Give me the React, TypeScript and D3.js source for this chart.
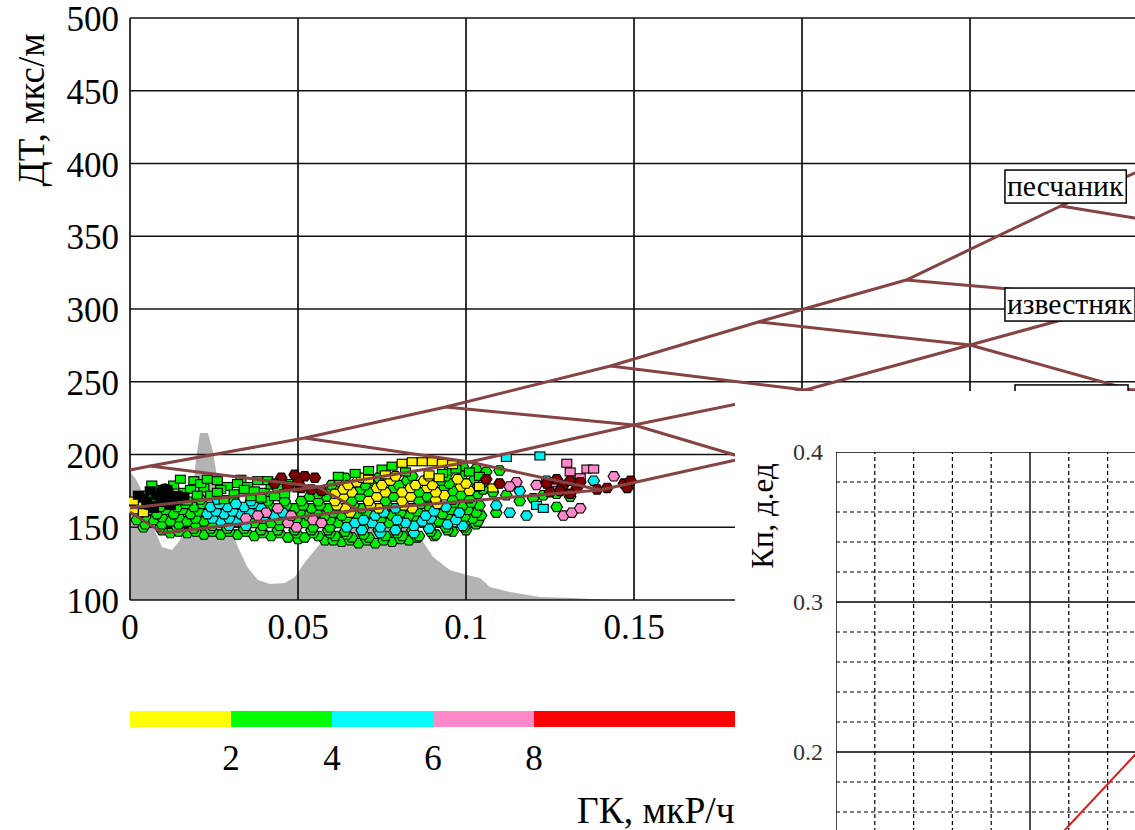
import React, { useEffect, useRef } from "react";
import * as d3 from "d3";

type P = [number, number];

const FONT = "'Liberation Serif','Times New Roman',serif";

// ---------- main chart axes ----------
const xGridValues = [0, 0.05, 0.1, 0.15, 0.2, 0.25, 0.3];
const xLabelValues = [0, 0.05, 0.1, 0.15];
const yGridValues = [100, 150, 200, 250, 300, 350, 400, 450, 500];

// ---------- gray distribution profile (GK, DT) ----------
const grayProfile: P[] = [
  [0, 188], [0.0015, 183.8], [0.003, 177.7], [0.0045, 168.7], [0.006, 156.4], [0.0077, 146],
  [0.0095, 136.4], [0.0125, 134.4], [0.0149, 141.2], [0.017, 155], [0.0185, 168.7], [0.0196, 196.2],
  [0.0208, 214.8], [0.0232, 214.8], [0.0247, 201.7], [0.0259, 184.5], [0.0274, 168.7], [0.0292, 155],
  [0.0321, 136.4], [0.0351, 122], [0.0381, 113.7], [0.0417, 111], [0.0461, 111.7], [0.0491, 115.8],
  [0.0521, 126.1], [0.056, 137.1], [0.0595, 144.7], [0.064, 150.2], [0.0685, 153.6], [0.0744, 155],
  [0.0804, 151.5], [0.0863, 143.3], [0.0902, 129.6], [0.0952, 120.6], [0.1003, 117.2], [0.1042, 115.1],
  [0.1071, 108.9], [0.1131, 105.5], [0.122, 102.1], [0.1318, 101.4], [0.14, 100.3], [0.1414, 100],
];

// ---------- lithology template lines ----------
const sandstoneCurve: P[] = [
  [0, 189.3], [0.006, 192.1], [0.052, 211.3], [0.094, 232.6], [0.143, 260.8],
  [0.187, 291.1], [0.231, 319.9], [0.277, 370.8], [0.32, 415],
];
const limestoneCurve: P[] = [
  [0, 163.2], [0.056, 177.7], [0.101, 194.8], [0.15, 220.3], [0.201, 244.3],
  [0.25, 275.3], [0.299, 306.2], [0.32, 319],
];
const dolomiteCurve: P[] = [
  [0, 160.5], [0.0098, 146], [0.068, 161.9], [0.14, 175.6], [0.183, 197.6],
  [0.24, 221], [0.298, 244.3], [0.32, 253],
];
const crossLine0: P[] = [[0.006, 192.1], [0.056, 177.7], [0.068, 161.9]];
const crossLine1: P[] = [[0.052, 211.3], [0.101, 194.8], [0.14, 175.6]];
const crossLine2: P[] = [[0.094, 232.6], [0.15, 220.3], [0.183, 197.6]];
const crossLine3: P[] = [[0.143, 260.8], [0.201, 244.3], [0.24, 221]];
const crossLine4: P[] = [[0.187, 291.1], [0.25, 275.3], [0.298, 244.3]];
const crossLine5: P[] = [[0.231, 319.9], [0.299, 306.2], [0.33, 290]];
const crossLine6: P[] = [[0.277, 370.8], [0.299, 362.5], [0.34, 340]];

const lithLabels = [
  { text: "песчаник", gk: 0.2604, dt: 395.5 },
  { text: "известняк", gk: 0.2604, dt: 314.4 },
  { text: "", gk: 0.2634, dt: 247.8 },
];

// ---------- scatter points (GK, DT) ----------
const greenHex: P[] = [
  [0.058, 141], [0.063, 140], [0.068, 139], [0.073, 139], [0.078, 140], [0.083, 141],
  [0.05, 142], [0.0605, 141], [0.0655, 141], [0.0705, 141], [0.0755, 141], [0.0805, 142], [0.0855, 143], [0.0905, 144],
  [0.012, 146], [0.017, 146], [0.022, 145], [0.027, 145], [0.032, 145], [0.037, 144], [0.042, 144],
  [0.047, 143], [0.052, 143], [0.056, 144], [0.061, 144], [0.066, 143], [0.071, 143], [0.076, 144],
  [0.081, 144], [0.086, 144], [0.091, 145], [0.096, 147], [0.1, 148],
  [0.0095, 148], [0.0145, 147], [0.0195, 147], [0.0245, 147], [0.0295, 147], [0.0345, 147], [0.0395, 146],
  [0.0445, 146], [0.0495, 146], [0.0545, 146], [0.0595, 146], [0.0645, 145], [0.0695, 145], [0.0795, 146],
  [0.0895, 147], [0.0945, 148], [0.0995, 150],
  [0.004, 150], [0.009, 150], [0.014, 150], [0.019, 149], [0.024, 149], [0.029, 149], [0.034, 149],
  [0.039, 148], [0.044, 148], [0.049, 148], [0.054, 148], [0.059, 148], [0.064, 147], [0.074, 148],
  [0.084, 148], [0.094, 150], [0.103, 152],
  [0.0045, 152], [0.0095, 152], [0.0145, 152], [0.0195, 152], [0.0245, 151], [0.0395, 151], [0.0445, 151],
  [0.0545, 150], [0.0595, 150], [0.0695, 150], [0.0795, 151], [0.0895, 151], [0.0995, 153], [0.1035, 154],
  [0.002, 155], [0.007, 155], [0.012, 154], [0.017, 154], [0.022, 154], [0.037, 153], [0.042, 153],
  [0.052, 153], [0.062, 153], [0.077, 153], [0.092, 154], [0.102, 156],
  [0.0045, 157], [0.0095, 157], [0.0145, 157], [0.0195, 156], [0.0445, 155], [0.0495, 155], [0.0595, 155],
  [0.0645, 155], [0.0745, 155], [0.0845, 156], [0.0945, 157], [0.0995, 157], [0.1045, 158],
  [0.003, 160], [0.008, 159], [0.013, 159], [0.018, 159], [0.053, 158], [0.058, 158], [0.063, 158],
  [0.068, 158], [0.078, 158], [0.083, 158], [0.093, 159], [0.103, 160],
  [0.0055, 162], [0.0105, 162], [0.0155, 162], [0.0205, 161], [0.0505, 160], [0.0555, 160], [0.0605, 160],
  [0.0705, 160], [0.0805, 160], [0.0855, 161], [0.0955, 162], [0.1005, 162],
  [0.004, 165], [0.009, 164], [0.014, 164], [0.019, 164], [0.049, 163], [0.054, 163], [0.059, 163],
  [0.069, 163], [0.089, 164], [0.099, 165], [0.104, 165],
  [0.0065, 167], [0.0115, 166], [0.0165, 166], [0.0215, 166], [0.0415, 165], [0.0465, 165], [0.0515, 165],
  [0.0565, 165], [0.0665, 165], [0.0765, 165], [0.0865, 166], [0.0965, 167], [0.1015, 167],
  [0.006, 169], [0.011, 169], [0.016, 169], [0.021, 169], [0.031, 168], [0.041, 168], [0.046, 168],
  [0.051, 168], [0.056, 168], [0.066, 168], [0.076, 168], [0.086, 168], [0.096, 169], [0.101, 170],
  [0.0535, 171], [0.0585, 171], [0.0685, 171], [0.0785, 171], [0.0885, 171], [0.0985, 172], [0.1035, 173],
  [0.056, 173], [0.071, 174], [0.086, 174], [0.096, 175], [0.105, 176],
  [0.0585, 176], [0.0685, 176], [0.0785, 177], [0.0935, 177], [0.1035, 178],
  [0.06, 179], [0.07, 179], [0.08, 179], [0.095, 180], [0.105, 181],
  [0.0625, 181], [0.0725, 182], [0.0825, 182], [0.0925, 182], [0.1025, 183],
  [0.064, 184], [0.074, 184], [0.084, 185], [0.094, 185], [0.099, 186], [0.104, 186],
  [0.099, 192], [0.103, 190], [0.106, 188], [0.11, 189], [0.095, 189],
  [0.127, 164], [0.131, 171], [0.127, 173], [0.12, 170], [0.116, 168], [0.123, 172], [0.112, 172],
  [0.108, 174], [0.109, 160],
];
const cyanHex: P[] = [
  [0.0745, 146], [0.0845, 146],
  [0.069, 148], [0.079, 148], [0.089, 149], [0.099, 151],
  [0.0295, 151], [0.0345, 151], [0.0645, 150], [0.0745, 150], [0.0845, 151], [0.0945, 152],
  [0.027, 154], [0.032, 154], [0.067, 153], [0.072, 153], [0.082, 153], [0.087, 154], [0.097, 155],
  [0.0245, 156], [0.0295, 156], [0.0395, 156], [0.0695, 155], [0.0795, 155], [0.0895, 156],
  [0.023, 159], [0.028, 159], [0.033, 159], [0.043, 158], [0.073, 158], [0.088, 158], [0.098, 160],
  [0.0255, 161], [0.0305, 161], [0.0355, 161], [0.0455, 160], [0.0755, 160], [0.0905, 161],
  [0.024, 164], [0.029, 164], [0.034, 164], [0.039, 163], [0.079, 163], [0.094, 164],
  [0.0265, 166], [0.0315, 166], [0.0365, 166],
  [0.026, 169], [0.036, 168],
  [0.138, 182], [0.124, 182], [0.118, 158], [0.113, 160], [0.109, 165], [0.116, 175],
];
const pinkHex: P[] = [
  [0.0495, 150], [0.0345, 156], [0.0545, 155], [0.0405, 160],
  [0.047, 153], [0.057, 153], [0.038, 158], [0.048, 158], [0.044, 163],
  [0.144, 185], [0.129, 158], [0.1315, 160], [0.134, 163], [0.115, 181], [0.121, 179],
  [0.113, 178], [0.126, 181],
];
const yellowHex: P[] = [
  [0.0655, 160],
  [0.064, 163], [0.074, 163], [0.084, 163],
  [0.0615, 165], [0.0715, 165], [0.0815, 165], [0.0915, 166],
  [0.061, 168], [0.071, 168], [0.081, 168], [0.091, 169],
  [0.0635, 171], [0.0735, 171], [0.0835, 171], [0.0935, 172],
  [0.061, 173], [0.066, 174], [0.076, 174], [0.081, 174], [0.091, 174], [0.101, 175],
  [0.0635, 176], [0.0735, 177], [0.0835, 177], [0.0885, 177], [0.0985, 178],
  [0.065, 179], [0.075, 179], [0.085, 179], [0.09, 179], [0.1, 180],
  [0.0675, 181], [0.0775, 182], [0.0875, 182], [0.0975, 183],
  [0.069, 184], [0.079, 185], [0.089, 185],
];
const darkRedHex: P[] = [
  [0.045, 184], [0.049, 186], [0.052, 185], [0.055, 184], [0.047, 178], [0.051, 177], [0.054, 176],
  [0.057, 175], [0.043, 180], [0.05, 181],
  [0.106, 183], [0.11, 180],
  [0.124, 180], [0.127, 183], [0.129, 179], [0.131, 182], [0.133, 177], [0.128, 175], [0.125, 174],
  [0.134, 181], [0.131, 173],
  [0.139, 176], [0.142, 177], [0.147, 180], [0.149, 182], [0.148, 177],
];
const greenSquares: P[] = [
  [0.005, 172], [0.008, 176], [0.013, 179], [0.016, 174], [0.019, 182], [0.022, 177], [0.024, 172],
  [0.026, 182], [0.029, 178], [0.031, 173], [0.033, 183], [0.035, 178], [0.038, 182], [0.04, 174],
  [0.042, 179], [0.045, 176], [0.048, 180], [0.011, 170], [0.017, 168], [0.028, 169], [0.036, 171],
  [0.003, 167], [0.043, 171], [0.05, 177],
  [0.0065, 179], [0.015, 183], [0.021, 180], [0.027, 176], [0.032, 180], [0.037, 175], [0.041, 182],
  [0.044, 177], [0.018, 176], [0.023, 183], [0.02, 172], [0.026, 174], [0.034, 176], [0.039, 170],
  [0.046, 173],
  [0.062, 185], [0.067, 187], [0.071, 189], [0.075, 190], [0.078, 192], [0.082, 188], [0.097, 190],
  [0.101, 188], [0.104, 185], [0.093, 187],
];
const yellowSquares: P[] = [
  [0.081, 194], [0.084, 195], [0.087, 195], [0.09, 195], [0.093, 194], [0.096, 193],
  [0.001, 162], [0.003, 166], [0.001, 168], [0.004, 160],
  [0.089, 186], [0.092, 184], [0.104, 178], [0.108, 177], [0.071, 183], [0.076, 186],
];
const blackSquares: P[] = [
  [0.004, 170], [0.006, 175], [0.009, 167], [0.014, 172], [0.012, 165], [0.007, 163],
  [0.0025, 172], [0.005, 168], [0.008, 172], [0.011, 176], [0.013, 168], [0.016, 171], [0.006, 165],
];
const cyanSquares: P[] = [[0.112, 198], [0.122, 199], [0.121, 165], [0.123, 163]];
const pinkSquares: P[] = [[0.13, 194], [0.136, 190], [0.131, 188], [0.134, 184], [0.138, 190]];
const blackDots: P[] = [[0.0104, 174]];

// ---------- colour legend ----------
const legendBreaks = [0, 2, 4, 6, 8, 12];
const legendColors = ["#ffff00", "#00ff00", "#00ffff", "#ff88c8", "#ff0000"];
const legendLabels = [2, 4, 6, 8];

// ---------- inset chart ----------
const insetYMajor = [0.2, 0.3, 0.4];
const insetYMinor = [0.14, 0.16, 0.18, 0.22, 0.24, 0.26, 0.28, 0.32, 0.34, 0.36, 0.38];
const insetXMajor = [150, 200, 250];
const insetXMinor = [160, 170, 180, 190, 210, 220, 230, 240];
const insetLine: P[] = [[205, 0.137], [240, 0.234]];

function hexPath(cx: number, cy: number) {
  const a = 5.8, b = 2.9, h = 4.7;
  return `M${cx - a},${cy}L${cx - b},${cy - h}L${cx + b},${cy - h}L${cx + a},${cy}L${cx + b},${cy + h}L${cx - b},${cy + h}Z`;
}

export default function App() {
  const ref = useRef<SVGSVGElement>(null);

  useEffect(() => {
    const svg = d3.select(ref.current);
    svg.selectAll("*").remove();

    const x = d3.scaleLinear().domain([0, 0.3]).range([130, 1138]);
    const y = d3.scaleLinear().domain([100, 500]).range([600, 18]);

    svg.append("rect").attr("width", 1135).attr("height", 830).attr("fill", "#fff");
    const defs = svg.append("defs");
    defs.append("clipPath").attr("id", "clipMain").append("rect")
      .attr("x", 129).attr("y", 17).attr("width", 1006).attr("height", 584);
    defs.append("clipPath").attr("id", "clipInset").append("rect")
      .attr("x", 836).attr("y", 452).attr("width", 299).attr("height", 378);

    const main = svg.append("g").attr("clip-path", "url(#clipMain)");

    // gray profile
    main.append("path").datum(grayProfile)
      .attr("d", d3.area<P>().x(d => x(d[0])).y0(y(100)).y1(d => y(d[1])))
      .attr("fill", "#b3b3b3");

    // grid
    main.selectAll("line.hg").data(yGridValues).join("line").attr("class", "hg")
      .attr("x1", x(0)).attr("x2", x(0.3)).attr("y1", d => y(d)).attr("y2", d => y(d))
      .attr("stroke", "#111").attr("stroke-width", 1.7);
    main.selectAll("line.vg").data(xGridValues).join("line").attr("class", "vg")
      .attr("x1", d => x(d)).attr("x2", d => x(d)).attr("y1", y(100)).attr("y2", y(500))
      .attr("stroke", "#111").attr("stroke-width", 1.7);

    // scatter
    const hexGroups: [P[], string][] = [
      [greenHex, "#00ee00"], [cyanHex, "#00f0f0"], [pinkHex, "#ff88c8"], [yellowHex, "#ffee00"],
    ];
    hexGroups.forEach(([pts, fill]) => {
      main.append("g").selectAll("path").data(pts).join("path")
        .attr("d", d => hexPath(x(d[0]), y(d[1])))
        .attr("fill", fill).attr("stroke", "#000").attr("stroke-width", 1.1);
    });
    const sqGroups: [P[], string][] = [
      [greenSquares, "#00ee00"], [yellowSquares, "#ffee00"], [blackSquares, "#000"],
      [cyanSquares, "#00f0f0"], [pinkSquares, "#ff88c8"],
    ];
    sqGroups.forEach(([pts, fill]) => {
      main.append("g").selectAll("rect").data(pts).join("rect")
        .attr("x", d => x(d[0]) - 5).attr("y", d => y(d[1]) - 4)
        .attr("width", 10).attr("height", 8)
        .attr("fill", fill).attr("stroke", "#000").attr("stroke-width", 1.1);
    });
    main.append("g").selectAll("path").data(darkRedHex).join("path")
      .attr("d", d => hexPath(x(d[0]), y(d[1])))
      .attr("fill", "#800000").attr("stroke", "#000").attr("stroke-width", 1.1);
    main.append("g").selectAll("circle").data(blackDots).join("circle")
      .attr("cx", d => x(d[0])).attr("cy", d => y(d[1])).attr("r", 9).attr("fill", "#000");

    // lithology lines
    const line = d3.line<P>().x(d => x(d[0])).y(d => y(d[1]));
    [sandstoneCurve, limestoneCurve, dolomiteCurve, crossLine0, crossLine1, crossLine2,
      crossLine3, crossLine4, crossLine5, crossLine6].forEach(c => {
      main.append("path").attr("d", line(c)!).attr("fill", "none")
        .attr("stroke", "#864343").attr("stroke-width", 3).attr("stroke-linejoin", "round");
    });

    // lithology labels
    lithLabels.forEach(l => {
      const g = main.append("g").attr("transform", `translate(${x(l.gk)},${y(l.dt)})`);
      const rect = g.append("rect").attr("fill", "#fff").attr("stroke", "#000").attr("stroke-width", 1.5)
        .attr("height", 33);
      if (l.text) {
        const t = g.append("text").attr("x", 2).attr("y", 26).attr("font-family", FONT)
          .attr("font-size", 29.6).attr("fill", "#000").text(l.text);
        const w = (t.node() as SVGTextElement).getComputedTextLength();
        rect.attr("width", w + 5);
      } else {
        rect.attr("width", 113);
      }
    });

    // axis labels
    svg.append("g").selectAll("text").data(yGridValues).join("text")
      .attr("x", 119).attr("y", d => y(d) + 13).attr("text-anchor", "end")
      .attr("font-family", FONT).attr("font-size", 35).attr("fill", "#000").text(d => String(d));
    svg.append("g").selectAll("text").data(xLabelValues).join("text")
      .attr("x", d => x(d)).attr("y", 639).attr("text-anchor", "middle")
      .attr("font-family", FONT).attr("font-size", 35).attr("fill", "#000").text(d => String(d));
    svg.append("text").attr("transform", "translate(44,110) rotate(-90)").attr("text-anchor", "middle")
      .attr("font-family", FONT).attr("font-size", 37).attr("fill", "#000").text("ДТ, мкс/м");

    // colour legend
    const lx = d3.scaleLinear().domain([0, 12]).range([130, 736]);
    svg.append("g").selectAll("rect").data(legendColors).join("rect")
      .attr("x", (_, i) => lx(legendBreaks[i])).attr("y", 711)
      .attr("width", (_, i) => lx(legendBreaks[i + 1]) - lx(legendBreaks[i])).attr("height", 16)
      .attr("fill", d => d);
    svg.append("g").selectAll("text").data(legendLabels).join("text")
      .attr("x", d => lx(d)).attr("y", 770).attr("text-anchor", "middle")
      .attr("font-family", FONT).attr("font-size", 35).attr("fill", "#000").text(d => String(d));
    svg.append("text").attr("x", 577).attr("y", 823).attr("font-family", FONT)
      .attr("font-size", 37.5).attr("fill", "#000").text("ГК, мкР/ч");

    // ---------- inset ----------
    svg.append("rect").attr("x", 735).attr("y", 391).attr("width", 400).attr("height", 439).attr("fill", "#fff");
    const xi = d3.scaleLinear().domain([150, 250]).range([836, 1224]);
    const yi = d3.scaleLinear().domain([0.1, 0.4]).range([902, 452]);
    const inset = svg.append("g").attr("clip-path", "url(#clipInset)");
    inset.selectAll("line.ym").data(insetYMinor).join("line").attr("class", "ym")
      .attr("x1", xi(150)).attr("x2", xi(250)).attr("y1", d => yi(d)).attr("y2", d => yi(d))
      .attr("stroke", "#000").attr("stroke-width", 1.2).attr("stroke-dasharray", "4,3");
    inset.selectAll("line.xm").data(insetXMinor).join("line").attr("class", "xm")
      .attr("x1", d => xi(d)).attr("x2", d => xi(d)).attr("y1", yi(0.1)).attr("y2", yi(0.4))
      .attr("stroke", "#000").attr("stroke-width", 1.2).attr("stroke-dasharray", "4,3");
    inset.selectAll("line.yM").data(insetYMajor).join("line").attr("class", "yM")
      .attr("x1", xi(150)).attr("x2", xi(250)).attr("y1", d => yi(d)).attr("y2", d => yi(d))
      .attr("stroke", "#000").attr("stroke-width", 1.4);
    inset.selectAll("line.xM").data(insetXMajor).join("line").attr("class", "xM")
      .attr("x1", d => xi(d)).attr("x2", d => xi(d)).attr("y1", yi(0.1)).attr("y2", yi(0.4))
      .attr("stroke", "#000").attr("stroke-width", 1.4);
    inset.append("path").attr("d", d3.line<P>().x(d => xi(d[0])).y(d => yi(d[1]))(insetLine)!)
      .attr("fill", "none").attr("stroke", "#e01818").attr("stroke-width", 2);
    svg.append("g").selectAll("text").data(insetYMajor).join("text")
      .attr("x", 823).attr("y", d => yi(d) + 8).attr("text-anchor", "end")
      .attr("font-family", FONT).attr("font-size", 24).attr("fill", "#333").text(d => d.toFixed(1));
    svg.append("text").attr("transform", "translate(773,516) rotate(-90)").attr("text-anchor", "middle")
      .attr("font-family", FONT).attr("font-size", 31).attr("fill", "#000").text("Кп, д.ед");
  }, []);

  return (
    <svg ref={ref} width={1135} height={830}
      style={{ position: "absolute", left: 0, top: 0, display: "block" }} />
  );
}
